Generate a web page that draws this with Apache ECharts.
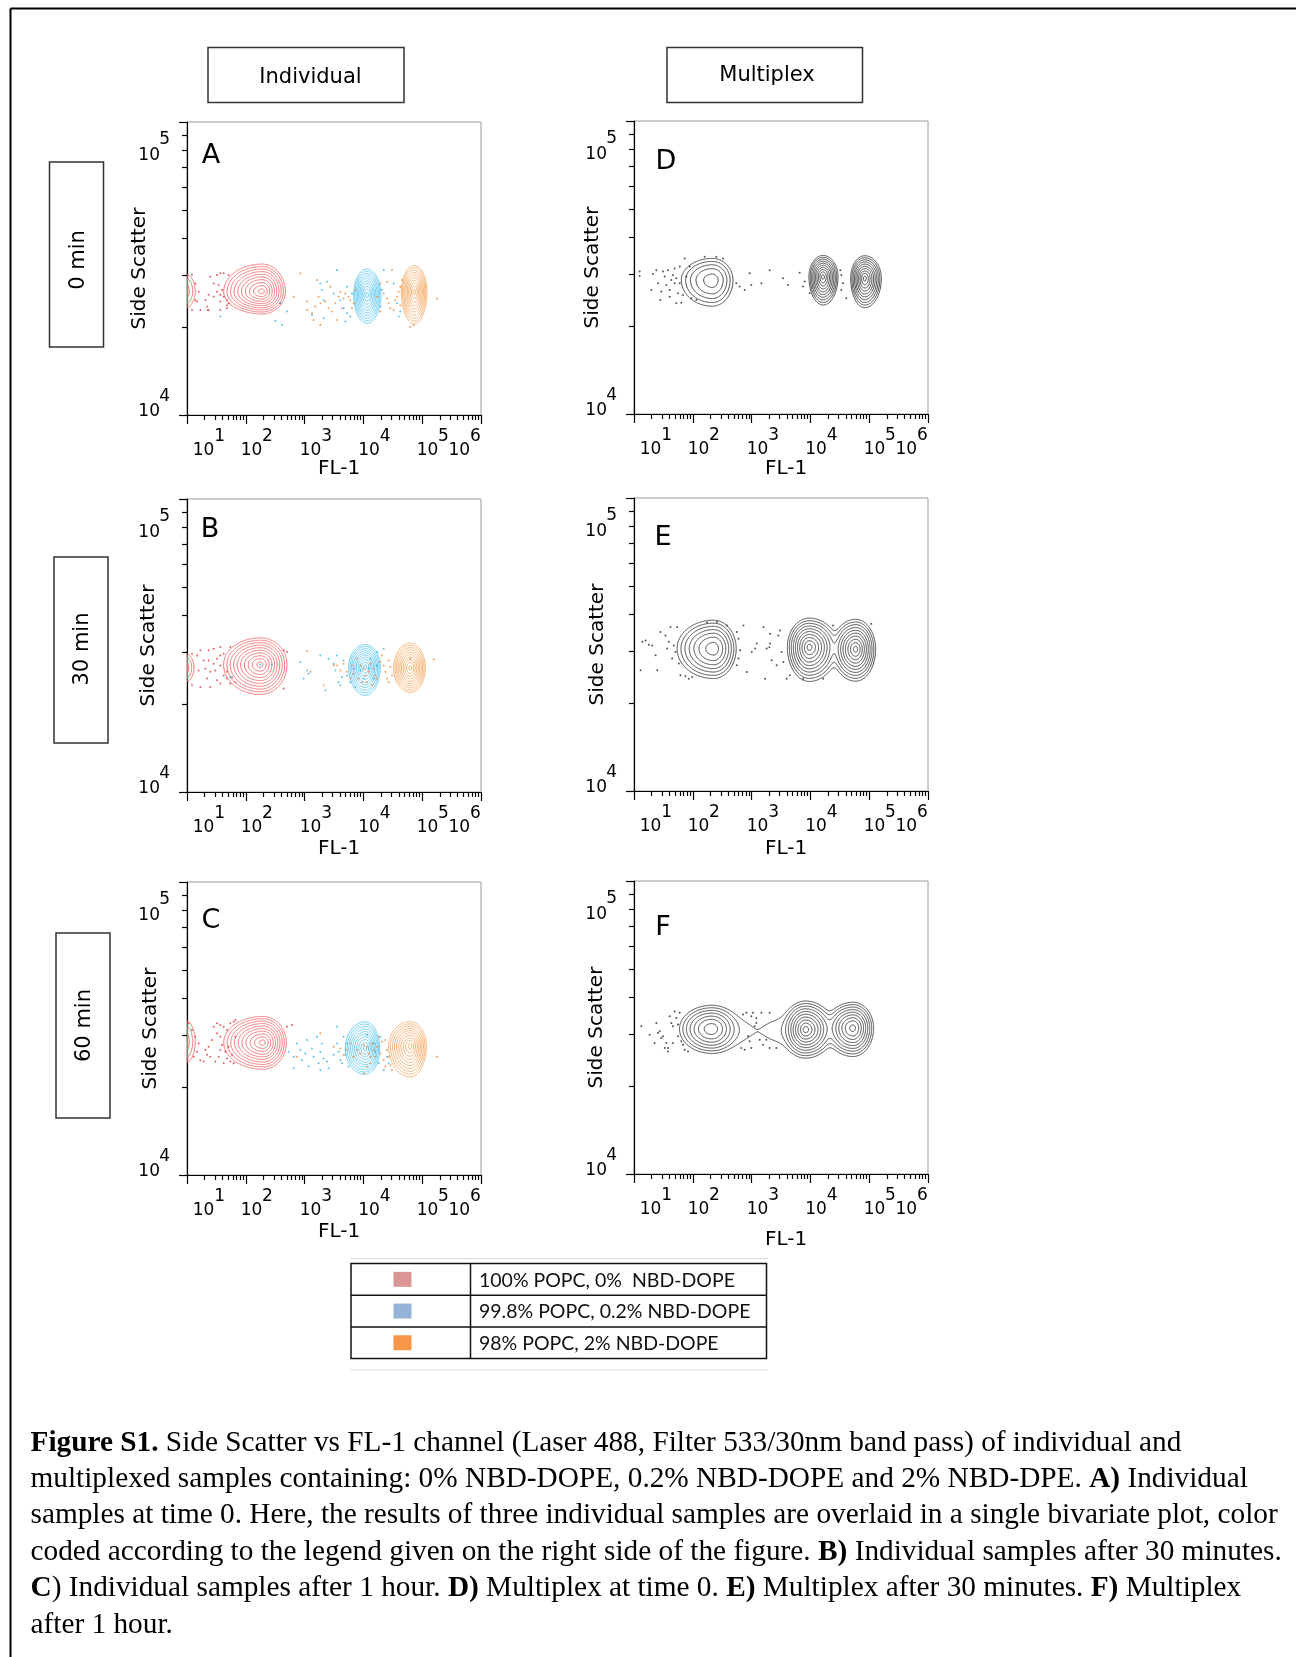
<!DOCTYPE html>
<html>
<head>
<meta charset="utf-8">
<script src="https://cdn.jsdelivr.net/npm/echarts@6/dist/echarts.min.js"></script>
<style>
  html, body { margin: 0; padding: 0; background: #fff; }
  #chart { width: 1296px; height: 1657px; }
</style>
</head>
<body>
<div id="chart"></div>
<script>
// ---------------------------------------------------------------------------
// Axis ranges (log10 units) and tick labels
// ---------------------------------------------------------------------------
const FL_MIN = 1, FL_MAX = 6;      // FL-1: 10^1 .. 10^6
const SSC_MIN = 4, SSC_MAX = 5;    // Side Scatter: 10^4 .. 10^5
const flDecades = [1, 2, 3, 4, 5, 6];
const sscDecades = [4, 5];
const flExponents = ['1', '2', '3', '4', '5', '6'];
const sscExponents = ['4', '5'];

// ---------------------------------------------------------------------------
// Gated populations, one row per population:
// [centre log10 FL-1, centre log10 SSC, outer reach left, right, up, down, relative log peak]
// ---------------------------------------------------------------------------
const popA_red    = [[2.276, 4.421, 0.652, 0.397, 0.094, 0.076, 0], [0.95, 4.423, 0.20, 0.19, 0.060, 0.060, -2.5]];
const popA_blue   = [[4.061, 4.410, 0.227, 0.238, 0.088, 0.097, 0]];
const popA_orange = [[4.866, 4.421, 0.221, 0.215, 0.089, 0.110, 0]];

const popB_red    = [[2.247, 4.435, 0.624, 0.454, 0.091, 0.102, 0], [0.95, 4.424, 0.20, 0.17, 0.050, 0.050, -2.5]];
const popB_blue   = [[4.033, 4.427, 0.283, 0.255, 0.076, 0.097, 0]];
const popB_orange = [[4.798, 4.423, 0.283, 0.255, 0.085, 0.083, 0]];

const popC_red    = [[2.293, 4.452, 0.669, 0.397, 0.089, 0.091, 0], [0.95, 4.455, 0.20, 0.19, 0.075, 0.075, -2.5]];
const popC_blue   = [[4.033, 4.432, 0.340, 0.244, 0.091, 0.088, 0]];
const popC_orange = [[4.798, 4.440, 0.368, 0.272, 0.083, 0.105, 0]];

const popD = [[2.332, 4.457, 0.527, 0.351, 0.074, 0.089, -1.5],
              [4.214, 4.469, 0.238, 0.255, 0.072, 0.097, 0],
              [4.923, 4.463, 0.238, 0.283, 0.077, 0.100, 0]];
const popE = [[2.354, 4.486, 0.621, 0.384, 0.097, 0.102, -0.65],
              [3.980, 4.491, 0.372, 0.480, 0.099, 0.117, 0],
              [4.770, 4.484, 0.400, 0.339, 0.102, 0.109, 0]];
const popF = [[2.315, 4.495, 0.539, 0.450, 0.080, 0.082, -0.65],
              [3.919, 4.493, 0.386, 0.478, 0.097, 0.097, 0],
              [4.724, 4.498, 0.469, 0.351, 0.088, 0.097, -0.15],
              [2.650, 4.489, 0.281, 0.281, 0.0375, 0.0375, -3.87],
              [3.550, 4.489, 0.281, 0.281, 0.0375, 0.0375, -3.87]];

// ---------------------------------------------------------------------------
// Events outside the outermost contour: [log10 FL-1, log10 SSC]
// ---------------------------------------------------------------------------
const dotA_red = [[1.085,4.478],[1.142,4.449],[1.198,4.421],[1.170,4.387],[1.340,4.370],[1.351,4.358],[1.397,4.472],[1.510,4.478],[1.567,4.484],[1.624,4.484],[1.709,4.478],[1.454,4.449],[1.539,4.444],[1.595,4.427],[1.510,4.421],[1.567,4.410],[1.624,4.404],[1.680,4.392],[1.709,4.381],[1.567,4.387],[1.454,4.404],[1.368,4.410],[1.312,4.392],[1.227,4.358],[1.567,4.358],[1.680,4.364],[2.587,4.381],[1.140,4.392],[1.085,4.358],[1.368,4.358],[1.680,4.375]];
const dotA_blue = [[1.567,4.336],[2.502,4.322],[2.616,4.307],[2.700,4.353],[2.587,4.381],[3.268,4.449],[3.381,4.455],[3.296,4.427],[3.324,4.392],[3.551,4.495],[3.494,4.415],[3.608,4.392],[3.664,4.364],[3.721,4.347],[3.778,4.336],[3.693,4.319],[3.806,4.415],[3.721,4.438],[4.345,4.495],[4.316,4.427],[4.288,4.370],[4.515,4.449],[4.571,4.381],[4.628,4.353],[4.600,4.336],[3.324,4.330],[3.126,4.341]];
const dotA_orange = [[2.814,4.404],[2.927,4.484],[3.041,4.387],[3.126,4.347],[3.154,4.324],[3.211,4.461],[3.239,4.404],[3.268,4.381],[3.353,4.387],[3.409,4.364],[3.438,4.438],[3.466,4.353],[3.523,4.381],[3.579,4.404],[3.608,4.421],[3.636,4.364],[3.664,4.398],[3.693,4.415],[3.749,4.404],[3.778,4.392],[3.806,4.364],[3.834,4.381],[3.863,4.427],[3.041,4.358],[3.183,4.370],[3.268,4.307],[3.551,4.324],[4.231,4.404],[4.288,4.449],[4.345,4.415],[4.401,4.398],[4.430,4.381],[4.458,4.364],[4.515,4.358],[4.543,4.392],[4.571,4.404],[4.600,4.421],[4.628,4.438],[4.656,4.461],[4.486,4.495],[4.401,4.455],[4.628,4.375],[4.288,4.353],[4.798,4.301],[4.855,4.307],[5.252,4.398]];

const dotB_red = [[1.085,4.472],[1.170,4.466],[1.227,4.484],[1.368,4.484],[1.454,4.489],[1.567,4.495],[1.737,4.495],[1.283,4.449],[1.368,4.449],[1.454,4.438],[1.510,4.455],[1.567,4.466],[1.624,4.472],[1.198,4.415],[1.312,4.421],[1.397,4.410],[1.482,4.415],[1.567,4.432],[1.624,4.398],[1.680,4.387],[1.737,4.370],[1.567,4.370],[1.397,4.358],[1.227,4.358],[1.085,4.364],[1.340,4.387],[1.510,4.381],[1.680,4.410],[1.765,4.392],[2.644,4.484],[2.701,4.478],[2.644,4.353],[1.822,4.375]];
const dotB_blue = [[1.737,4.392],[2.247,4.435],[2.446,4.435],[2.927,4.444],[2.984,4.387],[3.041,4.415],[3.069,4.404],[3.268,4.466],[3.353,4.347],[3.409,4.455],[3.494,4.438],[3.523,4.415],[3.551,4.466],[3.579,4.375],[3.608,4.364],[3.636,4.392],[3.664,4.449],[3.721,4.398],[3.778,4.375],[3.834,4.421],[3.863,4.358],[3.948,4.415],[4.090,4.421],[4.231,4.478],[4.345,4.489],[4.231,4.432],[4.175,4.387],[4.005,4.387],[4.118,4.455]];
const dotB_orange = [[3.041,4.480],[3.098,4.410],[3.324,4.364],[3.494,4.432],[3.551,4.432],[3.608,4.415],[3.664,4.438],[3.721,4.410],[3.778,4.387],[3.806,4.432],[3.834,4.404],[3.891,4.455],[3.919,4.387],[3.948,4.432],[3.976,4.375],[4.005,4.421],[4.033,4.398],[4.061,4.375],[4.090,4.410],[4.118,4.438],[4.175,4.421],[4.203,4.398],[4.146,4.364],[4.231,4.387],[4.288,4.444],[4.316,4.466],[4.345,4.432],[4.373,4.410],[4.401,4.387],[4.430,4.449],[4.458,4.427],[4.486,4.398],[4.430,4.375],[4.798,4.455],[5.195,4.453]];

const dotC_red = [[1.028,4.518],[1.085,4.495],[1.142,4.472],[1.198,4.449],[1.170,4.421],[1.227,4.392],[1.113,4.404],[1.283,4.387],[1.340,4.410],[1.368,4.438],[1.425,4.461],[1.454,4.506],[1.510,4.518],[1.567,4.512],[1.624,4.506],[1.680,4.495],[1.737,4.518],[1.794,4.523],[1.822,4.529],[1.510,4.484],[1.567,4.472],[1.595,4.444],[1.652,4.421],[1.680,4.398],[1.737,4.387],[1.794,4.381],[1.624,4.381],[1.482,4.387],[1.397,4.404],[1.312,4.427],[1.567,4.427],[1.539,4.404],[1.709,4.438],[1.765,4.410],[2.701,4.506],[2.786,4.512],[1.822,4.472]];
const dotC_blue = [[2.729,4.421],[2.814,4.404],[2.871,4.449],[2.927,4.427],[2.956,4.392],[3.012,4.415],[3.041,4.461],[3.069,4.370],[3.126,4.432],[3.154,4.404],[3.211,4.472],[3.239,4.381],[3.268,4.421],[3.296,4.449],[3.324,4.398],[3.381,4.387],[3.409,4.364],[3.494,4.410],[3.551,4.506],[3.551,4.449],[3.579,4.421],[3.608,4.392],[3.636,4.381],[3.664,4.472],[3.693,4.410],[3.721,4.449],[3.749,4.370],[4.175,4.449],[4.203,4.421],[4.288,4.472],[4.260,4.381],[4.401,4.404],[4.430,4.381],[4.345,4.358],[4.061,4.478],[2.814,4.364],[3.268,4.358]];
const dotC_orange = [[2.871,4.404],[3.268,4.484],[3.494,4.438],[3.608,4.432],[3.664,4.410],[3.721,4.427],[3.778,4.449],[3.834,4.404],[3.891,4.427],[3.948,4.415],[4.005,4.444],[4.061,4.438],[4.090,4.415],[4.118,4.404],[4.146,4.449],[4.175,4.427],[4.203,4.404],[4.231,4.438],[4.260,4.472],[4.288,4.415],[4.316,4.455],[4.345,4.392],[4.373,4.370],[4.401,4.427],[4.430,4.404],[4.458,4.375],[4.486,4.358],[4.373,4.461],[4.118,4.381],[5.252,4.404],[4.061,4.370],[4.005,4.347]];

const dotD = [[1.096,4.486],[1.096,4.471],[1.295,4.423],[1.323,4.478],[1.408,4.446],[1.448,4.389],[1.493,4.486],[1.522,4.469],[1.550,4.440],[1.578,4.491],[1.607,4.423],[1.635,4.457],[1.663,4.474],[1.692,4.446],[1.720,4.463],[1.748,4.412],[1.777,4.503],[1.805,4.380],[1.833,4.406],[1.862,4.531],[1.890,4.469],[1.947,4.503],[1.975,4.395],[2.060,4.389],[1.720,4.378],[1.607,4.400],[1.465,4.418],[1.380,4.491],[2.202,4.537],[2.400,4.537],[2.514,4.531],[2.740,4.446],[2.797,4.435],[2.882,4.423],[2.995,4.440],[2.967,4.480],[3.166,4.446],[3.307,4.491],[3.534,4.463],[3.619,4.440],[3.817,4.482],[3.874,4.435],[3.902,4.452],[3.987,4.412],[4.526,4.474],[4.554,4.446],[4.611,4.395],[4.526,4.423],[4.509,4.491],[1.777,4.446],[1.692,4.497]];
const dotE = [[1.113,4.412],[1.141,4.509],[1.198,4.514],[1.254,4.499],[1.310,4.497],[1.367,4.463],[1.395,4.412],[1.451,4.543],[1.536,4.531],[1.564,4.486],[1.593,4.509],[1.621,4.560],[1.649,4.452],[1.677,4.497],[1.705,4.474],[1.734,4.560],[1.762,4.435],[1.790,4.395],[1.875,4.392],[1.931,4.383],[1.988,4.389],[2.242,4.575],[2.411,4.577],[2.580,4.565],[2.749,4.543],[2.778,4.520],[2.806,4.480],[2.778,4.452],[2.749,4.429],[2.862,4.565],[2.919,4.406],[3.003,4.474],[3.060,4.486],[3.088,4.503],[3.201,4.560],[3.229,4.383],[3.257,4.486],[3.302,4.491],[3.314,4.503],[3.342,4.446],[3.427,4.429],[3.455,4.531],[3.483,4.548],[3.511,4.474],[3.540,4.440],[3.596,4.383],[3.652,4.395],[3.878,4.383],[4.217,4.383],[4.386,4.565],[5.035,4.571],[3.314,4.537]];
const dotF = [[1.125,4.504],[1.266,4.475],[1.351,4.447],[1.380,4.515],[1.408,4.481],[1.437,4.487],[1.465,4.464],[1.493,4.470],[1.550,4.447],[1.578,4.430],[1.607,4.538],[1.635,4.515],[1.663,4.504],[1.663,4.447],[1.692,4.555],[1.720,4.532],[1.748,4.510],[1.777,4.550],[1.805,4.453],[1.833,4.441],[1.862,4.424],[1.918,4.418],[1.578,4.418],[1.522,4.430],[1.748,4.470],[2.854,4.544],[2.910,4.550],[2.995,4.538],[3.024,4.550],[3.080,4.532],[3.166,4.550],[3.307,4.550],[3.052,4.504],[3.080,4.515],[2.967,4.453],[2.825,4.430],[2.882,4.424],[2.995,4.430],[3.194,4.441],[3.307,4.430],[3.421,4.430],[3.251,4.458],[3.137,4.458],[2.939,4.470]];

// Legend
const legendLabels = ['100% POPC, 0%  NBD-DOPE', '99.8% POPC, 0.2% NBD-DOPE', '98% POPC, 2% NBD-DOPE'];
const legendSwatches = ['#da9694', '#95b3d7', '#f79646'];

// Caption lines ({b|...} = bold)
const captionLines = [
  '{b|Figure S1.} Side Scatter vs FL-1 channel (Laser 488, Filter 533/30nm band pass) of individual and',
  'multiplexed samples containing: 0% NBD-DOPE, 0.2% NBD-DOPE and 2% NBD-DPE. {b|A)} Individual',
  'samples at time 0. Here, the results of three individual samples are overlaid in a single bivariate plot, color',
  'coded according to the legend given on the right side of the figure. {b|B)} Individual samples after 30 minutes.',
  '{b|C}) Individual samples after 1 hour. {b|D)} Multiplex at time 0. {b|E)} Multiplex after 30 minutes. {b|F)} Multiplex',
  'after 1 hour.'
];

// ---------------------------------------------------------------------------
// Styling
// ---------------------------------------------------------------------------
const LINE_COLOR = { red: '#f26a6a', blue: '#5ac6f0', orange: '#f5ab68', gray: '#484848' };
const DOT_COLOR  = { red: '#e33b3b', blue: '#2fb3e7', orange: '#ee8b3c', gray: '#2a2a2a' };
const LINE_WIDTH = { red: 0.9, blue: 0.9, orange: 0.9, gray: 1 };
const SANS = 'DejaVu Sans';

const PANELS = [
  { letter: 'A', left: 187, top: 122, lx: 211, ly: 156, yGap: 37, xGap: 43.5,
    samples: [['red', popA_red, dotA_red], ['blue', popA_blue, dotA_blue], ['orange', popA_orange, dotA_orange]] },
  { letter: 'B', left: 187, top: 499, lx: 210, ly: 530, yGap: 28, xGap: 46.5,
    samples: [['red', popB_red, dotB_red], ['blue', popB_blue, dotB_blue], ['orange', popB_orange, dotB_orange]] },
  { letter: 'C', left: 187, top: 882, lx: 211, ly: 921, yGap: 26, xGap: 47,
    samples: [['red', popC_red, dotC_red], ['blue', popC_blue, dotC_blue], ['orange', popC_orange, dotC_orange]] },
  { letter: 'D', left: 634, top: 121, lx: 666, ly: 162, yGap: 31, xGap: 44.5, samples: [['gray', popD, dotD]] },
  { letter: 'E', left: 634, top: 498, lx: 663, ly: 538, yGap: 26, xGap: 48, samples: [['gray', popE, dotE]] },
  { letter: 'F', left: 634, top: 881, lx: 663, ly: 928, yGap: 27, xGap: 55.5, samples: [['gray', popF, dotF]] }
];
const PLOT_W = 294, PLOT_H = 293;

// ---------------------------------------------------------------------------
// Density contours: contour levels in log density (peak = 0)
// ---------------------------------------------------------------------------
const CONTOUR_LOG_LEVELS = [-0.04, -0.21, -0.47, -0.82, -1.24, -1.72, -2.28, -2.90, -3.58, -4.31];
const LOG_OUTER = CONTOUR_LOG_LEVELS[CONTOUR_LOG_LEVELS.length - 1];

function toGauss(p) {
  const [cx, cy, rl, rr, ru, rd, peak] = p;
  const q = Math.sqrt(2 * (peak - LOG_OUTER));
  return { cx, cy, sl: rl / q, sr: rr / q, su: ru / q, sd: rd / q, peak };
}

function density(gs, x, y) {
  let s = 0;
  for (const g of gs) {
    const dx = x - g.cx, dy = y - g.cy;
    const ux = dx / (dx < 0 ? g.sl : g.sr), uy = dy / (dy > 0 ? g.su : g.sd);
    const e = g.peak - 0.5 * (ux * ux + uy * uy);
    if (e > -30) s += Math.exp(e);
  }
  return s;
}

const SEG_TABLE = {
  1: [[3, 0]], 2: [[0, 1]], 3: [[3, 1]], 4: [[1, 2]], 6: [[0, 2]], 7: [[3, 2]], 8: [[2, 3]],
  9: [[0, 2]], 11: [[1, 2]], 12: [[1, 3]], 13: [[0, 1]], 14: [[3, 0]]
};

function contourSegments(pops) {
  const gs = pops.map(toGauss);
  const NX = 500, NY = 300;
  const dx = (FL_MAX - FL_MIN) / NX, dy = (SSC_MAX - SSC_MIN) / NY;
  const W = NX + 3, H = NY + 3;
  const xs = new Float64Array(W), ys = new Float64Array(H);
  for (let i = 0; i < W; i++) xs[i] = FL_MIN + i * dx;
  for (let j = 0; j < H; j++) ys[j] = SSC_MIN + j * dy;
  const v = new Float64Array(W * H);   // zero border closes contours at the plot edge
  for (let j = 1; j < H - 1; j++)
    for (let i = 1; i < W - 1; i++) v[j * W + i] = density(gs, xs[i], ys[j]);

  return CONTOUR_LOG_LEVELS.map(lg => {
    const L = Math.exp(lg);
    const out = [];
    for (let j = 0; j < H - 1; j++) {
      for (let i = 0; i < W - 1; i++) {
        const a = v[j * W + i], b = v[j * W + i + 1], c = v[(j + 1) * W + i + 1], d = v[(j + 1) * W + i];
        const code = (a > L ? 1 : 0) | (b > L ? 2 : 0) | (c > L ? 4 : 0) | (d > L ? 8 : 0);
        if (code === 0 || code === 15) continue;
        const x0 = xs[i], x1 = xs[i + 1], y0 = ys[j], y1 = ys[j + 1];
        const edge = e => {
          if (e === 0) return [x0 + (L - a) / (b - a) * (x1 - x0), y0];
          if (e === 1) return [x1, y0 + (L - b) / (c - b) * (y1 - y0)];
          if (e === 2) return [x0 + (L - d) / (c - d) * (x1 - x0), y1];
          return [x0, y0 + (L - a) / (d - a) * (y1 - y0)];
        };
        let pairs;
        if (code === 5 || code === 10) {
          const centre = (a + b + c + d) / 4 > L;
          if (code === 5) pairs = centre ? [[0, 1], [2, 3]] : [[3, 0], [1, 2]];
          else pairs = centre ? [[3, 0], [1, 2]] : [[0, 1], [2, 3]];
        } else pairs = SEG_TABLE[code];
        for (const [e1, e2] of pairs) {
          const p = edge(e1), q = edge(e2);
          out.push(p[0], p[1], q[0], q[1]);
        }
      }
    }
    return out;
  });
}

function contourRenderer(levels, color, width) {
  return function (params, api) {
    const o = api.coord([FL_MIN, SSC_MIN]);
    const e = api.coord([FL_MAX, SSC_MAX]);
    const kx = (e[0] - o[0]) / (FL_MAX - FL_MIN), ky = (e[1] - o[1]) / (SSC_MAX - SSC_MIN);
    const children = [];
    for (const seg of levels) {
      if (!seg.length) continue;
      const parts = [];
      for (let i = 0; i < seg.length; i += 4) {
        parts.push('M' + (o[0] + (seg[i] - FL_MIN) * kx).toFixed(2) + ' ' + (o[1] + (seg[i + 1] - SSC_MIN) * ky).toFixed(2) +
                   'L' + (o[0] + (seg[i + 2] - FL_MIN) * kx).toFixed(2) + ' ' + (o[1] + (seg[i + 3] - SSC_MIN) * ky).toFixed(2));
      }
      children.push({ type: 'path', shape: { pathData: parts.join('') },
                      style: { fill: 'none', stroke: color, lineWidth: width } });
    }
    return { type: 'group', children };
  };
}

// ---------------------------------------------------------------------------
// Tick label placement: the printed "10" and its exponent sit slightly off the
// decade ticks (pixel nudges, converted to axis units)
// ---------------------------------------------------------------------------
const X_NUDGE = [16.6, 5.7, 6, 5.7, 5.3, -21.7];
const Y_NUDGE = { 4: -3, 5: 33.5 };
const SUP_DX = 16, SUP_DY = -15.5;
const DEC_W = PLOT_W / (FL_MAX - FL_MIN), DEC_H = PLOT_H / (SSC_MAX - SSC_MIN);

const flBaseAt = flDecades.map((d, i) => d + X_NUDGE[i] / DEC_W);
const flSupAt  = flDecades.map((d, i) => d + (X_NUDGE[i] + SUP_DX) / DEC_W);
const sscBaseAt = sscDecades.map(d => d - Y_NUDGE[d] / DEC_H);
const sscSupAt  = sscDecades.map(d => d - (Y_NUDGE[d] + SUP_DY) / DEC_H);
const nearest = (arr, v) => arr.reduce((bi, a, i) => Math.abs(a - v) < Math.abs(arr[bi] - v) ? i : bi, 0);

const flMinor = [], sscMinor = [];
for (let n = FL_MIN; n < FL_MAX; n++) for (let k = 2; k <= 9; k++) flMinor.push(n + Math.log10(k));
for (let k = 2; k <= 9; k++) sscMinor.push(SSC_MIN + Math.log10(k));

// ---------------------------------------------------------------------------
// Build option
// ---------------------------------------------------------------------------
const grid = [], xAxis = [], yAxis = [], series = [];
const blackLine = { color: '#000', width: 1.2 };
const baseLabel = { fontFamily: SANS, fontSize: 17, lineHeight: 17, color: '#000', hideOverlap: false,
                    showMinLabel: true, showMaxLabel: true };
const supLabel  = { fontFamily: SANS, fontSize: 17, lineHeight: 17, color: '#000', hideOverlap: false,
                    showMinLabel: true, showMaxLabel: true };

PANELS.forEach((p, gi) => {
  grid.push({ left: p.left, top: p.top, width: PLOT_W, height: PLOT_H,
              show: true, borderColor: '#9c9c9c', borderWidth: 1, backgroundColor: '#fff' });

  xAxis.push({
    type: 'value', gridIndex: gi, min: FL_MIN, max: FL_MAX, position: 'bottom',
    name: 'FL-1', nameLocation: 'middle', nameGap: p.xGap, nameMoveOverlap: false,
    nameTextStyle: { fontFamily: SANS, fontSize: 20, color: '#000', padding: [0, 0, 0, 10] },
    axisLine: { show: true, onZero: false, lineStyle: blackLine },
    axisTick: { show: true, customValues: flDecades, length: 9, lineStyle: blackLine },
    axisLabel: Object.assign({ show: true, customValues: flBaseAt, margin: 27.5, formatter: () => '10' }, baseLabel),
    splitLine: { show: false }
  });
  xAxis.push({
    type: 'value', gridIndex: gi, min: FL_MIN, max: FL_MAX, position: 'bottom',
    axisLine: { show: false, onZero: false },
    axisTick: { show: true, customValues: flMinor, length: 5, lineStyle: blackLine },
    axisLabel: Object.assign({ show: true, customValues: flSupAt, margin: 13.5,
                               formatter: v => flExponents[nearest(flSupAt, v)] }, supLabel),
    splitLine: { show: false }
  });

  yAxis.push({
    type: 'value', gridIndex: gi, min: SSC_MIN, max: SSC_MAX, position: 'left',
    name: 'Side Scatter', nameLocation: 'middle', nameGap: p.yGap, nameMoveOverlap: false,
    nameTextStyle: { fontFamily: SANS, fontSize: 20, color: '#000' },
    axisLine: { show: true, onZero: false, lineStyle: blackLine },
    axisTick: { show: true, customValues: sscDecades, length: 8, lineStyle: blackLine },
    axisLabel: Object.assign({ show: true, customValues: sscBaseAt, margin: 27, formatter: () => '10' }, baseLabel),
    splitLine: { show: false }
  });
  yAxis.push({
    type: 'value', gridIndex: gi, min: SSC_MIN, max: SSC_MAX, position: 'left',
    axisLine: { show: false, onZero: false },
    axisTick: { show: true, customValues: sscMinor, length: 5, lineStyle: blackLine },
    axisLabel: Object.assign({ show: true, customValues: sscSupAt, margin: 17,
                               formatter: v => sscExponents[nearest(sscSupAt, v)] }, supLabel),
    splitLine: { show: false }
  });

  p.samples.forEach(([colorKey, pops, dots]) => {
    const levels = contourSegments(pops);
    series.push({
      type: 'custom', xAxisIndex: 2 * gi, yAxisIndex: 2 * gi, clip: true, silent: true,
      data: [[pops[0][0], pops[0][1]]], encode: { x: 0, y: 1 },
      renderItem: contourRenderer(levels, LINE_COLOR[colorKey], LINE_WIDTH[colorKey])
    });
    series.push({
      type: 'scatter', xAxisIndex: 2 * gi, yAxisIndex: 2 * gi, silent: true,
      symbol: 'circle', symbolSize: 2, itemStyle: { color: DOT_COLOR[colorKey] },
      data: dots
    });
  });
});

// ---------------------------------------------------------------------------
// Figure furniture: frame, header boxes, row boxes, panel letters, legend, caption
// ---------------------------------------------------------------------------
const graphic = [];
graphic.push({ type: 'line', shape: { x1: 10.5, y1: 8.5, x2: 1296, y2: 8.5 }, style: { stroke: '#000', lineWidth: 2 } });
graphic.push({ type: 'line', shape: { x1: 10.5, y1: 8.5, x2: 10.5, y2: 1657 }, style: { stroke: '#000', lineWidth: 2 } });

function labelBox(x, y, w, h, text, rotate, tx, ty) {
  graphic.push({ type: 'rect', shape: { x, y, width: w, height: h },
                 style: { fill: '#fff', stroke: '#333', lineWidth: 1.5 } });
  graphic.push({ type: 'text', x: tx, y: ty, rotation: rotate ? Math.PI / 2 : 0,
                 style: { text, fontFamily: SANS, fontSize: 21, fill: '#000', align: 'center', verticalAlign: 'middle' } });
}
labelBox(208, 47.5, 196, 55, 'Individual', false, 310.5, 77.5);
labelBox(667, 47.5, 195.5, 55, 'Multiplex', false, 767, 75.5);
labelBox(49.5, 162, 54, 185, '0 min', true, 78.5, 260);
labelBox(54, 557, 54, 186, '30 min', true, 82.5, 649);
labelBox(56, 933, 54, 185, '60 min', true, 84.5, 1025.5);

PANELS.forEach(p => {
  graphic.push({ type: 'text', x: p.lx, y: p.ly,
                 style: { text: p.letter, fontFamily: SANS, fontSize: 27, fill: '#000', align: 'center', verticalAlign: 'middle' } });
});

// Legend table
const LG = { left: 351, right: 766.5, top: 1263.5, row: 31.7, split: 470.5 };
graphic.push({ type: 'line', shape: { x1: 350, y1: 1258.5, x2: 768, y2: 1258.5 }, style: { stroke: '#dcdcdc', lineWidth: 1 } });
graphic.push({ type: 'line', shape: { x1: 350, y1: 1370, x2: 768, y2: 1370 }, style: { stroke: '#dcdcdc', lineWidth: 1 } });
graphic.push({ type: 'rect', shape: { x: LG.left, y: LG.top, width: LG.right - LG.left, height: LG.row * legendLabels.length },
               style: { fill: '#fff', stroke: '#111', lineWidth: 1.5 } });
graphic.push({ type: 'line', shape: { x1: LG.split, y1: LG.top, x2: LG.split, y2: LG.top + LG.row * legendLabels.length },
               style: { stroke: '#111', lineWidth: 1.5 } });
legendLabels.forEach((lab, i) => {
  const cy = LG.top + LG.row * (i + 0.5);
  if (i > 0) graphic.push({ type: 'line', shape: { x1: LG.left, y1: LG.top + LG.row * i, x2: LG.right, y2: LG.top + LG.row * i },
                            style: { stroke: '#111', lineWidth: 1.5 } });
  graphic.push({ type: 'rect', shape: { x: 393.5, y: cy - 7.5, width: 18, height: 15 }, style: { fill: legendSwatches[i] } });
  graphic.push({ type: 'text', x: 479, y: cy + 1,
                 style: { text: lab, fontFamily: 'Lato', fontSize: 19.5, fill: '#111', align: 'left', verticalAlign: 'middle' } });
});

// Caption
captionLines.forEach((line, i) => {
  graphic.push({ type: 'text', x: 30.5, y: 1443 + i * 36.4,
                 style: { text: line, fontFamily: 'Liberation Serif', fontSize: 29.3, fill: '#000',
                          align: 'left', verticalAlign: 'middle',
                          rich: { b: { fontFamily: 'Liberation Serif', fontSize: 29.3, fontWeight: 'bold', fill: '#000' } } } });
});

const chart = echarts.init(document.getElementById('chart'), null, { renderer: 'canvas' });
chart.setOption({
  animation: false,
  backgroundColor: '#fff',
  textStyle: { fontFamily: SANS },
  grid, xAxis, yAxis, series, graphic
});
</script>
</body>
</html>
